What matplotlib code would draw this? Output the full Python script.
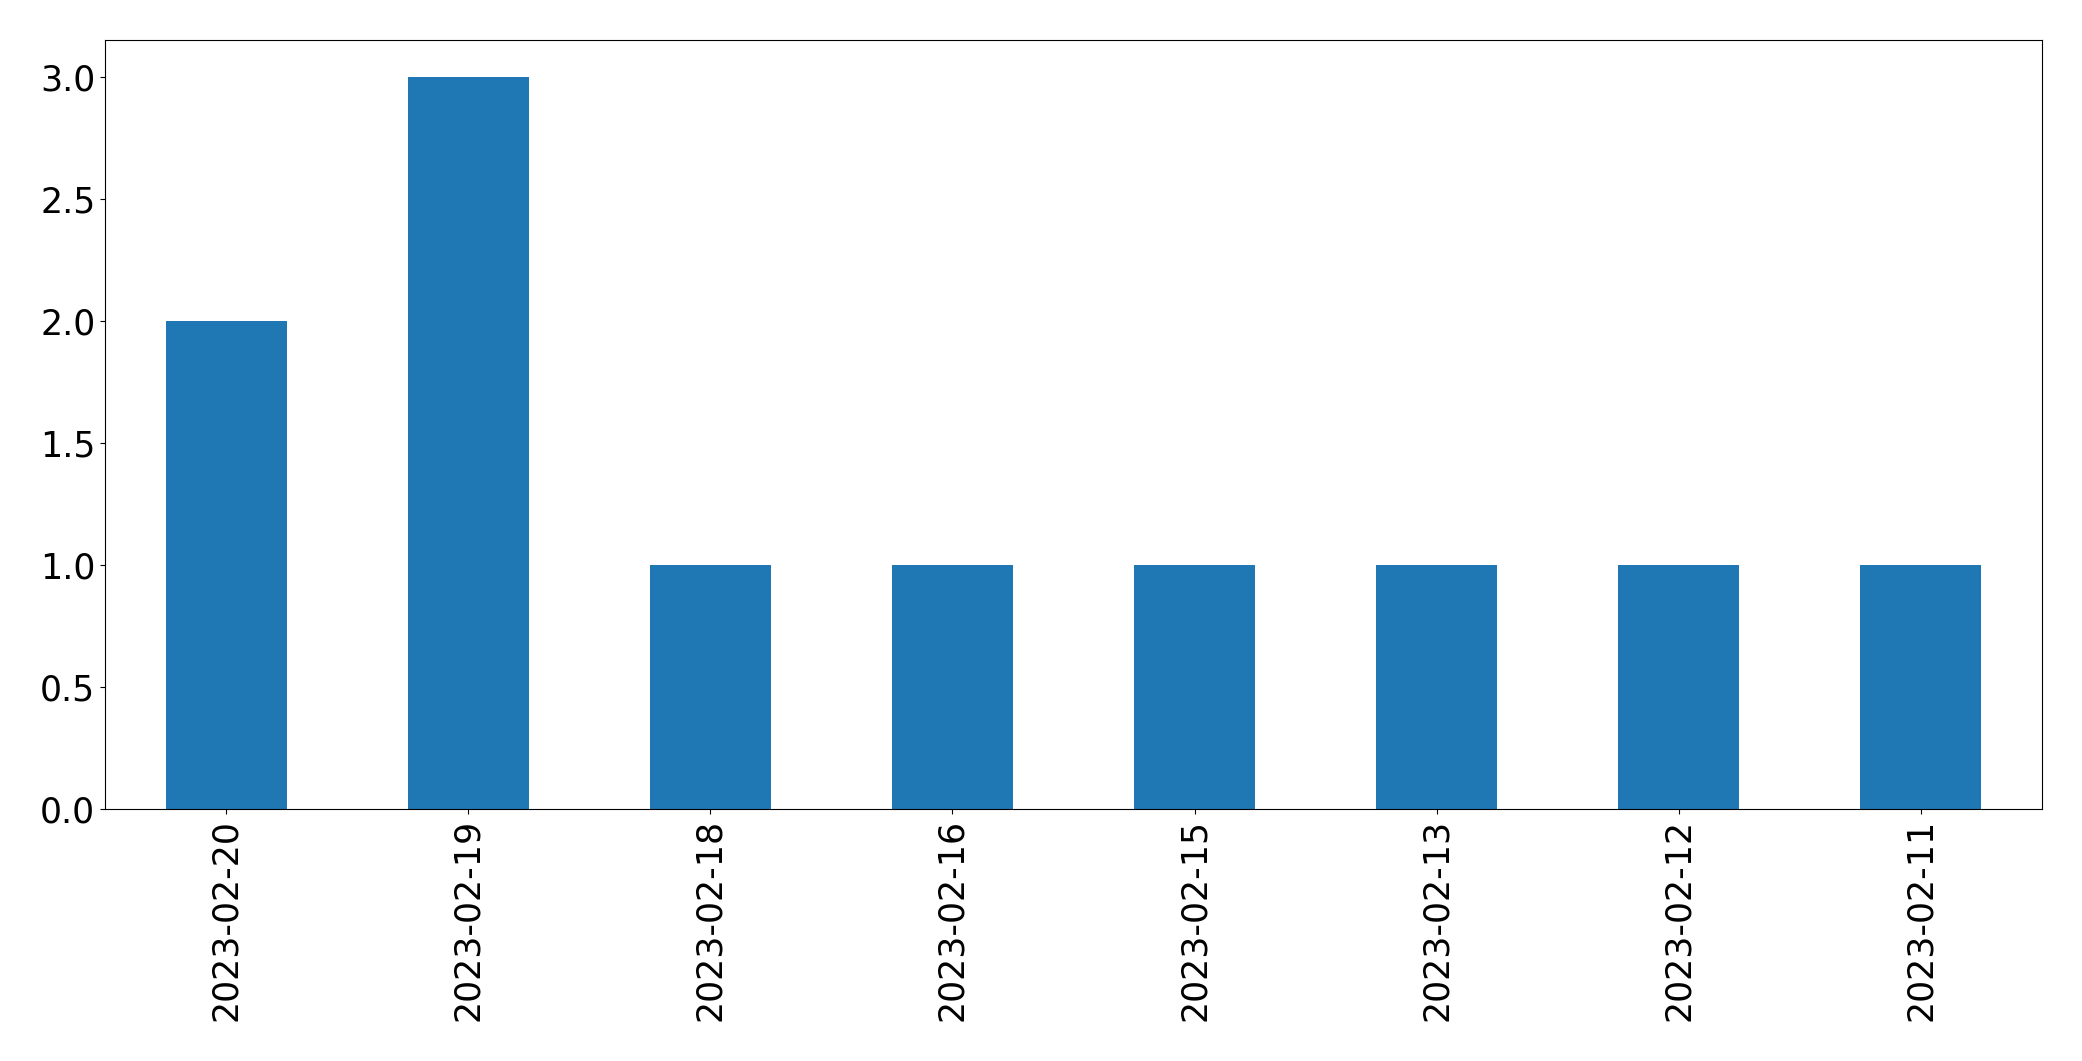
import matplotlib
matplotlib.use("Agg")
import matplotlib.pyplot as plt
import pandas as pd

dates = ["2023-02-20", "2023-02-19", "2023-02-18", "2023-02-16",
         "2023-02-15", "2023-02-13", "2023-02-12", "2023-02-11"]
counts = [2, 3, 1, 1, 1, 1, 1, 1]

s = pd.Series(counts, index=dates)
fig = plt.figure(figsize=(20.82, 10.61), dpi=100)
ax = fig.add_axes([105/2082, 1 - 809/1061, (2042-105)/2082, (809-40)/1061])
s.plot(kind="bar", ax=ax, color="#1f77b4")
ax.tick_params(labelsize=25)
fig.savefig("out.png", dpi=100)
